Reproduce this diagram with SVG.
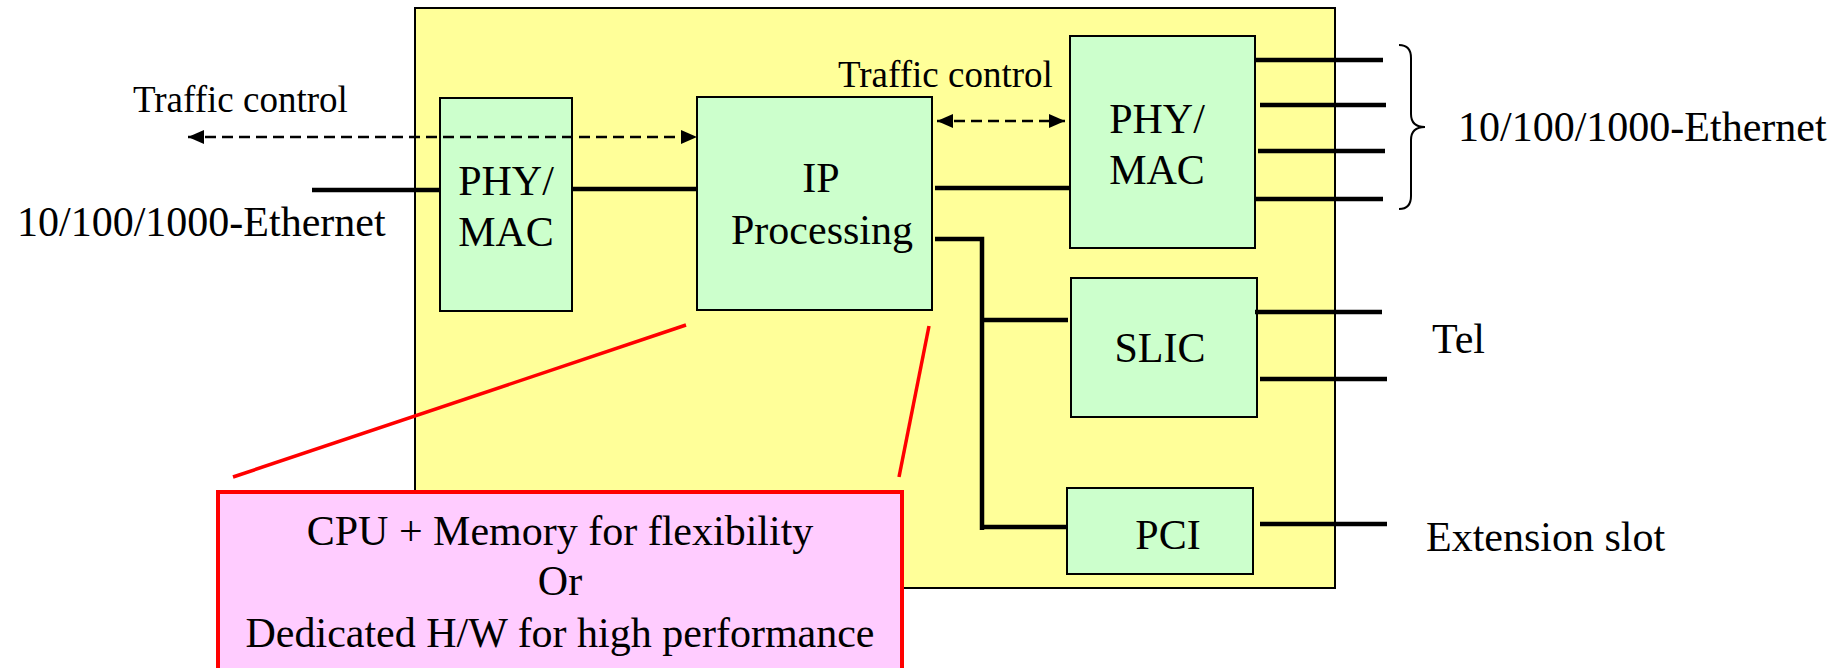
<svg xmlns="http://www.w3.org/2000/svg" width="1848" height="668" viewBox="0 0 1848 668">
<style>
  text { font-family: "Liberation Serif", "Times New Roman", serif; fill: #000; }
  .lbl { font-size: 42px; }
  .tc { font-size: 37px; }
  .node { fill: #CCFFCC; stroke: #000; stroke-width: 2; }
  .wire { stroke: #000; stroke-width: 4.5; fill: none; }
  .dash { stroke: #000; stroke-width: 2.5; stroke-dasharray: 11 6; fill: none; }
  .red { stroke: #FF0000; stroke-width: 3.5; fill: none; }
</style>
<defs>
  <marker id="ah" markerUnits="userSpaceOnUse" markerWidth="16" markerHeight="14" refX="16" refY="7" orient="auto-start-reverse">
    <path d="M0,0 L16,7 L0,14 z" fill="#000"/>
  </marker>
</defs>

<g id="board">
  <rect x="415" y="8" width="920" height="580" fill="#FFFF99" stroke="#000" stroke-width="2"/>
</g>

<g id="phymac-left">
  <rect class="node" x="440" y="98" width="132" height="213"/>
  <text class="lbl" x="506" y="195" text-anchor="middle">PHY/</text>
  <text class="lbl" x="506" y="246" text-anchor="middle">MAC</text>
</g>

<g id="ip-processing">
  <rect class="node" x="697" y="97" width="235" height="213"/>
  <text class="lbl" x="821" y="192" text-anchor="middle">IP</text>
  <text class="lbl" x="822" y="244" text-anchor="middle">Processing</text>
</g>

<g id="phymac-right">
  <rect class="node" x="1070" y="36" width="185" height="212"/>
  <text class="lbl" x="1157" y="133" text-anchor="middle">PHY/</text>
  <text class="lbl" x="1157" y="184" text-anchor="middle">MAC</text>
</g>

<g id="slic">
  <rect class="node" x="1071" y="278" width="186" height="139"/>
  <text class="lbl" x="1160" y="362" text-anchor="middle">SLIC</text>
</g>

<g id="pci">
  <rect class="node" x="1067" y="488" width="186" height="86"/>
  <text class="lbl" x="1168" y="549" text-anchor="middle">PCI</text>
</g>

<g id="note">
  <rect x="218" y="492" width="684" height="200" fill="#FFCCFF" stroke="#FF0000" stroke-width="4"/>
  <text class="lbl" x="560" y="545" text-anchor="middle">CPU + Memory for flexibility</text>
  <text class="lbl" x="560" y="595" text-anchor="middle">Or</text>
  <text class="lbl" x="560" y="647" text-anchor="middle">Dedicated H/W for high performance</text>
</g>

<g id="connectors">
  <line class="wire" x1="312" y1="190" x2="440" y2="190"/>
  <line class="wire" x1="572" y1="189" x2="697" y2="189"/>
  <line class="wire" x1="935" y1="188" x2="1069" y2="188"/>
  <polyline class="wire" points="935,239 982,239 982,530"/>
  <line class="wire" x1="980" y1="320" x2="1068" y2="320"/>
  <line class="wire" x1="980" y1="527" x2="1067" y2="527"/>
  <line class="wire" x1="1255" y1="60" x2="1383" y2="60"/>
  <line class="wire" x1="1260" y1="105" x2="1386" y2="105"/>
  <line class="wire" x1="1258" y1="151" x2="1385" y2="151"/>
  <line class="wire" x1="1255" y1="199" x2="1383" y2="199"/>
  <line class="wire" x1="1255" y1="312" x2="1382" y2="312"/>
  <line class="wire" x1="1260" y1="379" x2="1387" y2="379"/>
  <line class="wire" x1="1260" y1="524" x2="1387" y2="524"/>
  <line class="dash" x1="188" y1="137" x2="697" y2="137" marker-start="url(#ah)" marker-end="url(#ah)"/>
  <line class="dash" x1="937" y1="121" x2="1065" y2="121" marker-start="url(#ah)" marker-end="url(#ah)"/>
  <line class="red" x1="686" y1="325" x2="233" y2="477"/>
  <line class="red" x1="929" y1="326" x2="899" y2="477"/>
  <path d="M1399,45 Q1411,45 1411,58 L1411,114 Q1411,127 1425,127 Q1411,127 1411,140 L1411,196 Q1411,209 1399,209" fill="none" stroke="#000" stroke-width="2"/>
</g>

<g id="labels">
  <text class="tc" x="133" y="112">Traffic control</text>
  <text class="tc" x="838" y="87">Traffic control</text>
  <text class="lbl" x="17" y="236">10/100/1000-Ethernet</text>
  <text class="lbl" x="1458" y="141">10/100/1000-Ethernet</text>
  <text class="lbl" x="1432" y="353">Tel</text>
  <text class="lbl" x="1426" y="551">Extension slot</text>
</g>
</svg>
